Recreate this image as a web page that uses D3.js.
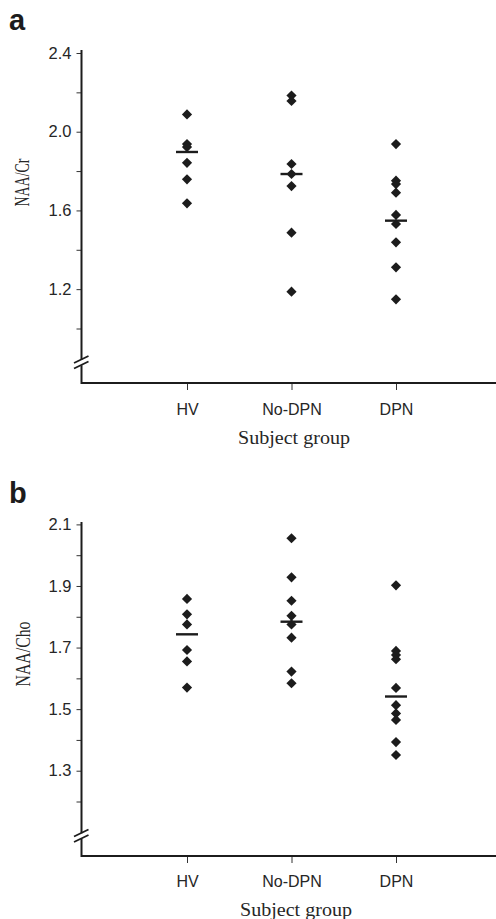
<!DOCTYPE html>
<html><head><meta charset="utf-8">
<script src="https://cdn.jsdelivr.net/npm/d3@7"></script>
<style>body{margin:0;background:#fff}svg{display:block}</style>
</head><body>
<svg id="chart" width="496" height="919"></svg>
<script>
// ---- data ----
const groups = ["HV", "No-DPN", "DPN"];

const naaCrHV    = [2.088, 1.937, 1.922, 1.842, 1.758, 1.636];
const naaCrNoDPN = [2.184, 2.156, 1.836, 1.785, 1.724, 1.487, 1.187];
const naaCrDPN   = [1.937, 1.751, 1.734, 1.690, 1.577, 1.531, 1.438, 1.311, 1.148];
const naaCrMeans = [1.897, 1.785, 1.548];
const naaCrTicks = [1.0, 1.2, 1.4, 1.6, 1.8, 2.0, 2.2, 2.4];
const naaCrTickLabels = ["", "1.2", "", "1.6", "", "2.0", "", "2.4"];

const naaChoHV    = [1.858, 1.808, 1.775, 1.692, 1.655, 1.570];
const naaChoNoDPN = [2.055, 1.928, 1.852, 1.803, 1.775, 1.732, 1.622, 1.584];
const naaChoDPN   = [1.902, 1.689, 1.676, 1.662, 1.569, 1.513, 1.486, 1.465, 1.393, 1.351];
const naaChoMeans = [1.743, 1.784, 1.541];
const naaChoTicks = [1.2, 1.3, 1.4, 1.5, 1.6, 1.7, 1.8, 1.9, 2.0, 2.1];
const naaChoTickLabels = ["", "1.3", "", "1.5", "", "1.7", "", "1.9", "", "2.1"];

const xTitle = "Subject group";

// ---- layout ----
const svg = d3.select("#chart");
const ink = "#1c1c1c";
const axisX = 81.5;
const rightEdge = 496;
const x = d3.scalePoint().domain(groups).range([187, 396]);

const panels = [
  { letter: "a", letterY: 30, yLabel: "NAA/Cr", yLabelY: 182.5, yLabelX: 28.5, yLabelLen: 48,
    series: [naaCrHV, naaCrNoDPN, naaCrDPN], means: naaCrMeans,
    ticks: naaCrTicks, tickLabels: naaCrTickLabels,
    domain: [1.0, 2.4], range: [328.5, 53], axisTop: 50, xAxisY: 383, breakY: 362.5,
    catPad: 13.5, titleY: 444, titleX: 294 },
  { letter: "b", letterY: 503, yLabel: "NAA/Cho", yLabelY: 654, yLabelX: 29.5, yLabelLen: 65,
    series: [naaChoHV, naaChoNoDPN, naaChoDPN], means: naaChoMeans,
    ticks: naaChoTicks, tickLabels: naaChoTickLabels,
    domain: [1.2, 2.1], range: [801.5, 524.4], axisTop: 522, xAxisY: 856, breakY: 836,
    catPad: 13, titleY: 916, titleX: 296 }
];

const diamond = d3.symbol(d3.symbolSquare, 52);

panels.forEach(p => {
  const g = svg.append("g");
  const y = d3.scaleLinear().domain(p.domain).range(p.range);

  // panel letter
  g.append("text").attr("x", 9).attr("y", p.letterY)
    .attr("font-family", "Liberation Sans, Arial, sans-serif")
    .attr("font-weight", "bold").attr("font-size", 29).attr("fill", ink)
    .text(p.letter);

  // y axis ticks & labels
  const yAxis = d3.axisLeft(y).tickValues(p.ticks)
    .tickFormat((d, i) => p.tickLabels[i]).tickSize(5).tickPadding(5);
  const ya = g.append("g").attr("transform", `translate(${axisX},0)`).call(yAxis);
  ya.select(".domain").remove();
  ya.selectAll(".tick line").attr("stroke", "#333").attr("stroke-width", 1);
  ya.selectAll(".tick text").attr("fill", "#262626")
    .attr("font-family", "Liberation Sans, Arial, sans-serif").attr("font-size", 16.5);

  // x axis ticks & labels
  const xAxis = d3.axisBottom(x).tickSize(7).tickPadding(p.catPad);
  const xa = g.append("g").attr("transform", `translate(0,${p.xAxisY})`).call(xAxis);
  xa.select(".domain").remove();
  xa.selectAll(".tick line").attr("stroke", "#333").attr("stroke-width", 1);
  xa.selectAll(".tick text").attr("fill", "#262626")
    .attr("font-family", "Liberation Sans, Arial, sans-serif").attr("font-size", 16);

  // axis lines with break
  const b = p.breakY;
  g.append("path")
    .attr("d", `M${axisX},${p.axisTop}V${b - 2.8}M${axisX},${b + 2.8}V${p.xAxisY}H${rightEdge}`)
    .attr("fill", "none").attr("stroke", ink).attr("stroke-width", 2);
  [-1, 4.5].forEach(o => {
    g.append("line")
      .attr("x1", axisX - 7.5).attr("y1", b + o + 1.5)
      .attr("x2", axisX + 7).attr("y2", b + o - 5.5)
      .attr("stroke", ink).attr("stroke-width", 1.8);
  });

  // axis titles
  g.append("text")
    .attr("transform", `translate(${p.yLabelX},${p.yLabelY}) rotate(-90)`)
    .attr("text-anchor", "middle")
    .attr("font-family", "Liberation Serif, Times New Roman, serif")
    .attr("font-size", 21).attr("fill", "#262626")
    .attr("textLength", p.yLabelLen).attr("lengthAdjust", "spacingAndGlyphs")
    .text(p.yLabel);
  g.append("text").attr("x", p.titleX).attr("y", p.titleY)
    .attr("text-anchor", "middle")
    .attr("font-family", "Liberation Serif, Times New Roman, serif")
    .attr("font-size", 19).attr("fill", "#262626")
    .attr("textLength", 112).attr("lengthAdjust", "spacingAndGlyphs")
    .text(xTitle);

  // points
  p.series.forEach((vals, gi) => {
    g.append("g").selectAll("path").data(vals).join("path")
      .attr("d", diamond)
      .attr("transform", d => `translate(${x(groups[gi])},${y(d)}) rotate(45)`)
      .attr("fill", ink);
  });

  // mean lines
  g.append("g").selectAll("line").data(p.means).join("line")
    .attr("x1", (d, i) => x(groups[i]) - 11).attr("x2", (d, i) => x(groups[i]) + 11)
    .attr("y1", d => y(d)).attr("y2", d => y(d))
    .attr("stroke", ink).attr("stroke-width", 2.4);
});
</script>
</body></html>
